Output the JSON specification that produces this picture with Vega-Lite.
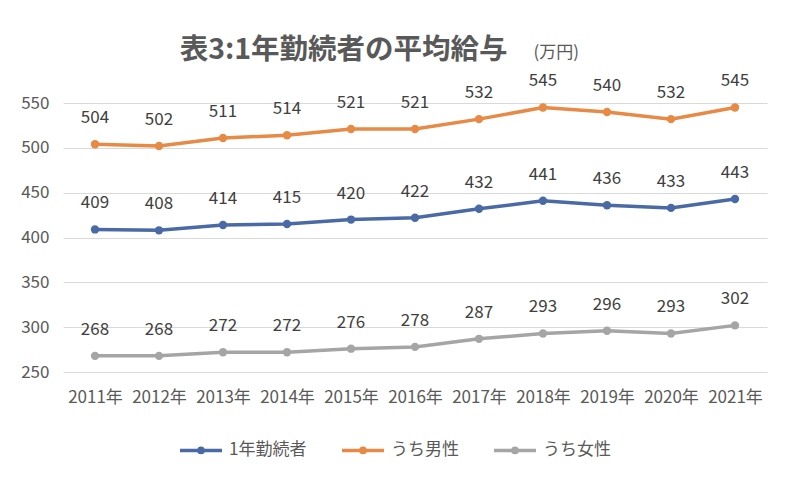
{
  "$schema": "https://vega.github.io/schema/vega-lite/v6.json",
  "autosize": "none",
  "width": 704,
  "height": 269,
  "padding": {"left": 63, "top": 103, "right": 33, "bottom": 128},
  "background": "white",
  "config": {
    "font": "Noto Sans CJK JP",
    "view": {"stroke": null}
  },
  "title": {
    "text": "表3:1年勤続者の平均給与",
    "anchor": "start",
    "dx": 159,
    "fontSize": 28.5,
    "fontWeight": "bold",
    "color": "#595959",
    "offset": -21
  },
  "data": {
    "values": [
      {"year": "2011年", "series": "1年勤続者", "value": 409},
      {"year": "2012年", "series": "1年勤続者", "value": 408},
      {"year": "2013年", "series": "1年勤続者", "value": 414},
      {"year": "2014年", "series": "1年勤続者", "value": 415},
      {"year": "2015年", "series": "1年勤続者", "value": 420},
      {"year": "2016年", "series": "1年勤続者", "value": 422},
      {"year": "2017年", "series": "1年勤続者", "value": 432},
      {"year": "2018年", "series": "1年勤続者", "value": 441},
      {"year": "2019年", "series": "1年勤続者", "value": 436},
      {"year": "2020年", "series": "1年勤続者", "value": 433},
      {"year": "2021年", "series": "1年勤続者", "value": 443},
      {"year": "2011年", "series": "うち男性", "value": 504},
      {"year": "2012年", "series": "うち男性", "value": 502},
      {"year": "2013年", "series": "うち男性", "value": 511},
      {"year": "2014年", "series": "うち男性", "value": 514},
      {"year": "2015年", "series": "うち男性", "value": 521},
      {"year": "2016年", "series": "うち男性", "value": 521},
      {"year": "2017年", "series": "うち男性", "value": 532},
      {"year": "2018年", "series": "うち男性", "value": 545},
      {"year": "2019年", "series": "うち男性", "value": 540},
      {"year": "2020年", "series": "うち男性", "value": 532},
      {"year": "2021年", "series": "うち男性", "value": 545},
      {"year": "2011年", "series": "うち女性", "value": 268},
      {"year": "2012年", "series": "うち女性", "value": 268},
      {"year": "2013年", "series": "うち女性", "value": 272},
      {"year": "2014年", "series": "うち女性", "value": 272},
      {"year": "2015年", "series": "うち女性", "value": 276},
      {"year": "2016年", "series": "うち女性", "value": 278},
      {"year": "2017年", "series": "うち女性", "value": 287},
      {"year": "2018年", "series": "うち女性", "value": 293},
      {"year": "2019年", "series": "うち女性", "value": 296},
      {"year": "2020年", "series": "うち女性", "value": 293},
      {"year": "2021年", "series": "うち女性", "value": 302}
    ]
  },
  "encoding": {
    "x": {
      "field": "year",
      "type": "ordinal",
      "sort": null,
      "scale": {"type": "point", "padding": 0.5},
      "axis": {
        "title": null,
        "labelAngle": 0,
        "domain": false,
        "ticks": false,
        "grid": false,
        "labelFontSize": 17,
        "labelColor": "#595959",
        "labelPadding": 17
      }
    },
    "y": {
      "field": "value",
      "type": "quantitative",
      "scale": {"domain": [250, 550], "nice": false, "zero": false},
      "axis": {
        "title": "(万円)",
        "titleAngle": 0,
        "titleAlign": "left",
        "titleBaseline": "alphabetic",
        "titleX": 470,
        "titleY": -46,
        "titleFontSize": 17,
        "titleFontWeight": "normal",
        "titleColor": "#595959",
        "values": [250, 300, 350, 400, 450, 500, 550],
        "domain": false,
        "ticks": false,
        "grid": true,
        "gridColor": "#d9d9d9",
        "gridWidth": 1,
        "labelFontSize": 17,
        "labelColor": "#595959",
        "labelPadding": 14
      }
    }
  },
  "layer": [
    {
      "mark": {"type": "line", "strokeWidth": 3.5, "point": {"size": 70, "filled": true, "opacity": 1}},
      "encoding": {
        "color": {
          "field": "series",
          "type": "nominal",
          "scale": {
            "domain": ["1年勤続者", "うち男性", "うち女性"],
            "range": ["#4a6aa5", "#e68a45", "#a5a5a5"]
          },
          "legend": {
            "title": null,
            "orient": "none",
            "direction": "horizontal",
            "legendX": 115,
            "legendY": 324,
            "padding": 0,
            "columnPadding": 28,
            "symbolType": "M-1,0H1M-0.1,0a0.1,0.1 0 1,0 0.2,0a0.1,0.1 0 1,0 -0.2,0",
            "symbolSize": 1764,
            "symbolStrokeWidth": 3.5,
            "labelFontSize": 17,
            "labelColor": "#595959",
            "labelOffset": 5
          }
        }
      }
    },
    {
      "mark": {"type": "text", "dy": -26, "fontSize": 17, "color": "#404040"},
      "encoding": {
        "text": {"field": "value", "type": "quantitative"}
      }
    }
  ]
}
